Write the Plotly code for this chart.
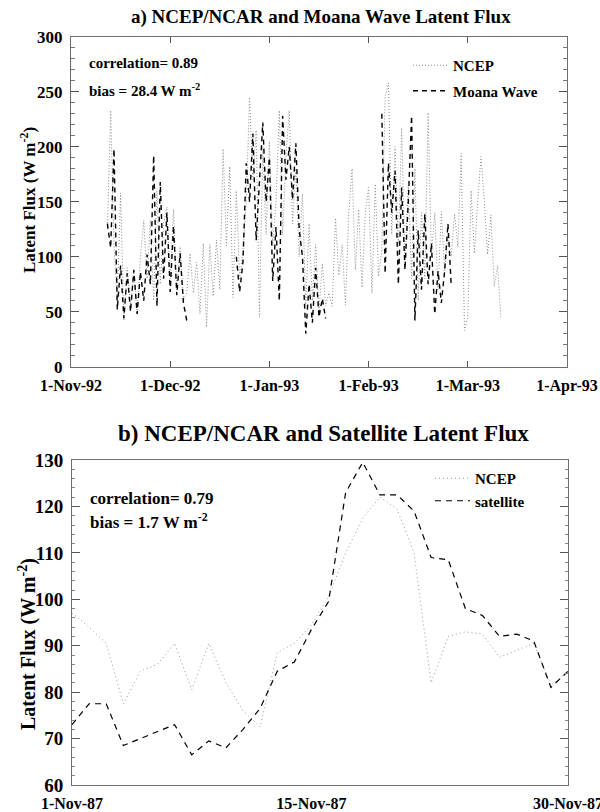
import plotly.graph_objects as go

# ---------------- Panel a data (days since 1-Nov-92) ----------------
ncep_a_start = 11
ncep_a = [125, 233, 110, 60, 158, 42, 90, 55, 85, 48,
          100, 133, 80, 133, 60, 160, 75, 130, 145, 80,
          143, 70, 109, 60, 67, 103, 67, 95, 48, 112,
          36, 111, 64, 115, 70, 198, 110, 182, 63, 160,
          80, 105, 150, 245, 170, 215, 45, 200, 120, 205,
          110, 150, 233, 120, 190, 233, 130, 180, 100, 157,
          55, 130, 60, 111, 50, 94, 55, 67, 55, 135,
          83, 111, 56, 140, 180, 88, 143, 72, 140, 163,
          67, 166, 82, 106, 245, 258, 120, 200, 110, 217,
          95, 165, 80, 180, 60, 140, 80, 231, 100, 140,
          70, 141, 87, 120, 100, 139, 109, 194, 33, 45,
          160, 103, 150, 191, 150, 102, 138, 73, 92, 45]

moana_seg1_start = 11
moana_seg1 = [130, 108, 198, 52, 92, 44, 85, 50, 88, 48, 86, 60, 102, 75,
              192, 55, 168, 80, 140, 68, 128, 65, 103, 58, 42]
moana_seg2_start = 50
moana_seg2 = [100, 68, 95, 185, 150, 212, 115, 175, 222, 150, 190, 78, 127, 60,
              228, 170, 200, 152, 203, 125, 100, 30, 75, 40, 90, 45, 62, 44]
moana_seg3_start = 94
moana_seg3 = [230, 85, 185, 140, 178, 75, 163, 88, 150, 228, 42, 124, 70, 139,
              75, 112, 48, 87, 58, 87, 130, 73]

a_tickvals = [0, 30, 60, 90, 120, 150]
a_ticktext = ["1-Nov-92", "1-Dec-92", "1-Jan-93", "1-Feb-93", "1-Mar-93", "1-Apr-93"]
a_yticks = [0, 50, 100, 150, 200, 250, 300]

# ---------------- Panel b data (days since 1-Nov-87) ----------------
ncep_b = [97, 94, 90.5, 77.5, 84.5, 86, 90.5, 80.5, 90.5, 82,
          76, 72.5, 88.5, 90.5, 94.5, 100.5, 110, 117.5, 122, 119.5,
          110, 82, 92, 93, 92.5, 87.5, 89, 90.5, 81.5, 84.5]
satellite_b = [73, 77.5, 77.5, 68.5, 70, 71.5, 73, 66.5, 69.5, 68,
               72, 76.5, 84.5, 86.5, 93.5, 99.5, 123, 129.5, 122.5, 122.5,
               119, 109, 108.5, 98, 96.5, 92, 92.5, 91, 81, 84.5]
b_tickvals = [0, 14, 29]
b_ticktext = ["1-Nov-87", "15-Nov-87", "30-Nov-87"]
b_yticks = [60, 70, 80, 90, 100, 110, 120, 130]

W, H = 600, 812
SERIF = "Liberation Serif, Times New Roman, Times, DejaVu Serif, serif"


def px_x(p):
    return p / W


def px_y(p):
    return 1 - p / H


def bold(t):
    return "<b>" + t + "</b>"


# build x positions and gap-separated moana series
ncep_a_x = list(range(ncep_a_start, ncep_a_start + len(ncep_a)))
moana_x, moana_y = [], []
for start, seg in [(moana_seg1_start, moana_seg1), (moana_seg2_start, moana_seg2),
                   (moana_seg3_start, moana_seg3)]:
    moana_x += list(range(start, start + len(seg))) + [None]
    moana_y += list(seg) + [None]
b_x = list(range(len(ncep_b)))

fig = go.Figure()
fig.add_trace(go.Scatter(x=ncep_a_x, y=ncep_a, mode="lines", name=bold("NCEP"),
                         line=dict(color="#8c8c8c", width=1, dash="1px,2px"),
                         xaxis="x", yaxis="y", legend="legend", legendgroup="a1"))
fig.add_trace(go.Scatter(x=moana_x, y=moana_y, mode="lines", name=bold("Moana Wave"),
                         connectgaps=False,
                         line=dict(color="black", width=1.4, dash="5px,4px"),
                         xaxis="x", yaxis="y", legend="legend", legendgroup="a2"))
fig.add_trace(go.Scatter(x=b_x, y=ncep_b, mode="lines", name=bold("NCEP"),
                         line=dict(color="#9a9a9a", width=1, dash="1px,3px"),
                         xaxis="x2", yaxis="y2", legend="legend2", legendgroup="b1"))
fig.add_trace(go.Scatter(x=b_x, y=satellite_b, mode="lines", name=bold("satellite"),
                         line=dict(color="black", width=1.2, dash="6px,5px"),
                         xaxis="x2", yaxis="y2", legend="legend2", legendgroup="b2"))

tickfont = dict(family=SERIF, size=16, color="black")
axcommon = dict(showgrid=False, zeroline=False, showline=True, linecolor="#6e6e6e",
                linewidth=1, mirror="ticks", ticks="inside", tickcolor="#555",
                ticklabelstandoff=4, automargin=False)

fig.update_layout(
    width=W, height=H, margin=dict(l=0, r=0, t=0, b=0, autoexpand=False),
    font=dict(family=SERIF, size=15, color="black"),
    paper_bgcolor="white", plot_bgcolor="white", showlegend=True,
    xaxis=dict(domain=[px_x(71), px_x(567)], anchor="y", range=[0, 150],
               tickvals=a_tickvals, ticktext=[bold(t) for t in a_ticktext], ticklen=6,
               tickfont=tickfont, ticklabeloverflow="allow", **axcommon),
    yaxis=dict(domain=[px_y(366.7), px_y(36.7)], anchor="x", range=[0, 300],
               tickvals=a_yticks, ticktext=[bold(str(v)) for v in a_yticks],
               ticklen=8,
               minor=dict(dtick=10, ticks="inside", ticklen=4, tickcolor="#777"),
               tickfont=dict(family=SERIF, size=17, color="black"),
               **axcommon),
    xaxis2=dict(domain=[px_x(72), px_x(568)], anchor="y2", range=[0, 29],
                tickvals=b_tickvals, ticktext=[bold(t) for t in b_ticktext], ticklen=0,
                tickfont=tickfont, ticklabeloverflow="allow", **axcommon),
    yaxis2=dict(domain=[px_y(785), px_y(460)], anchor="x2", range=[60, 130],
                tickvals=b_yticks, ticktext=[bold(str(v)) for v in b_yticks],
                ticklen=8,
                minor=dict(dtick=2, ticks="inside", ticklen=3, tickcolor="#888"),
                tickfont=dict(family=SERIF, size=19, color="black"),
                **axcommon),
    legend=dict(x=px_x(408), y=px_y(49), xanchor="left", yanchor="top",
                bgcolor="rgba(0,0,0,0)", itemwidth=35, tracegroupgap=3,
                font=dict(family=SERIF, size=15, color="black")),
    legend2=dict(x=px_x(430), y=px_y(462), xanchor="left", yanchor="top",
                 bgcolor="rgba(0,0,0,0)", itemwidth=35, tracegroupgap=0,
                 font=dict(family=SERIF, size=15, color="black")),
)

ann_font = lambda s: dict(family=SERIF, size=s, color="black")
annotations = [
    dict(text=bold("a) NCEP/NCAR and Moana Wave Latent Flux"), x=px_x(321), y=px_y(17),
         font=ann_font(19), xanchor="center", yanchor="middle"),
    dict(text=bold("b) NCEP/NCAR and Satellite Latent Flux"), x=px_x(323), y=px_y(433),
         font=ann_font(23), xanchor="center", yanchor="middle"),
    dict(text=bold("correlation= 0.89"), x=px_x(87), y=px_y(63), font=ann_font(15),
         xanchor="left", yanchor="middle", align="left"),
    dict(text=bold("bias = 28.4 W m<sup>-2</sup>"), x=px_x(87), y=px_y(90), font=ann_font(15),
         xanchor="left", yanchor="middle", align="left"),
    dict(text=bold("correlation= 0.79"), x=px_x(88), y=px_y(498), font=ann_font(17),
         xanchor="left", yanchor="middle", align="left"),
    dict(text=bold("bias = 1.7 W m<sup>-2</sup>"), x=px_x(88), y=px_y(521), font=ann_font(17),
         xanchor="left", yanchor="middle", align="left"),
    dict(text=bold("Latent Flux (W m<sup>-2</sup>)"), x=px_x(28), y=px_y(200), textangle=-90,
         font=ann_font(17), xanchor="center", yanchor="middle"),
    dict(text=bold("Latent Flux (W m<sup>-2</sup>)"), x=px_x(27), y=px_y(644), textangle=-90,
         font=ann_font(20), xanchor="center", yanchor="middle"),
]
for a in annotations:
    a.update(xref="paper", yref="paper", showarrow=False)
fig.update_layout(annotations=annotations)

fig.write_html("out.html")
